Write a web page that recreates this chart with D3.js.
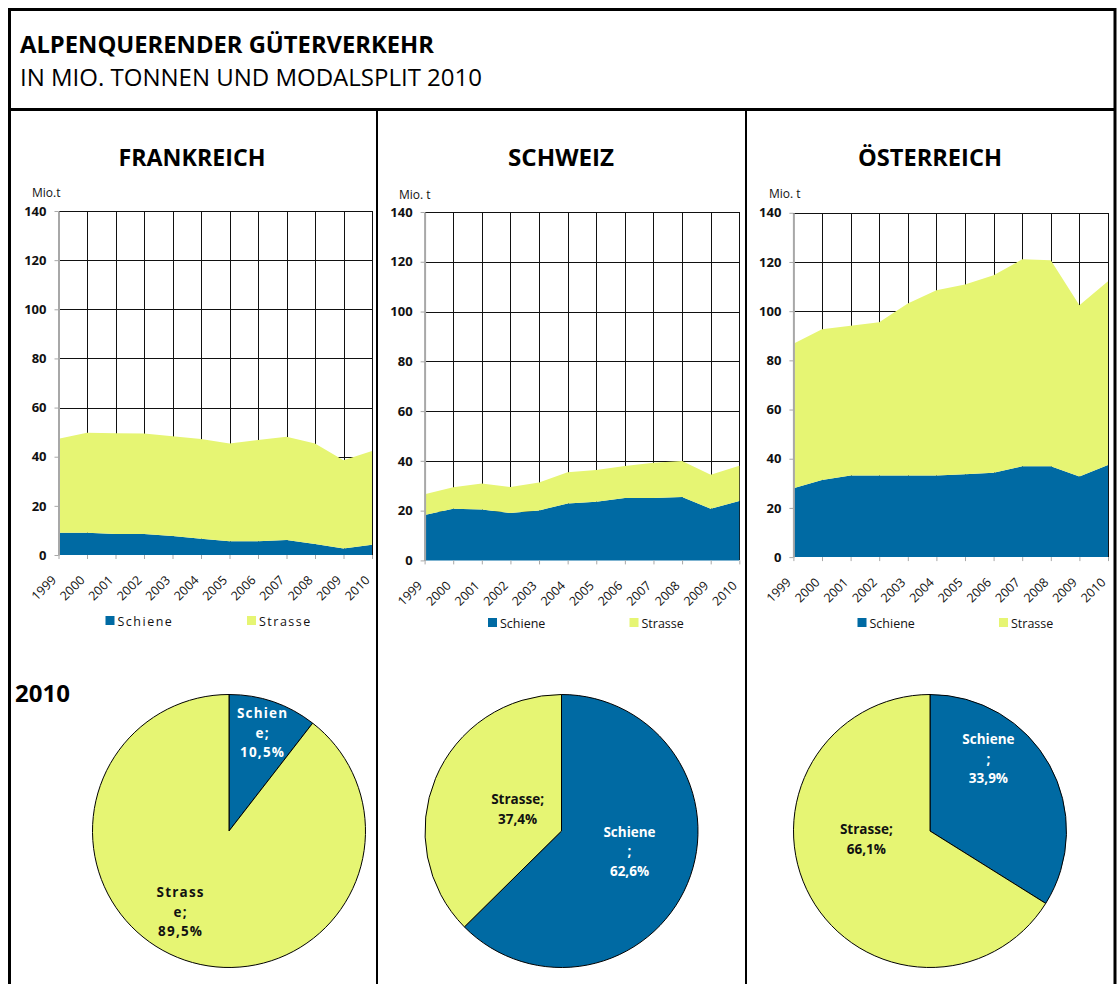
<!DOCTYPE html>
<html lang="de">
<head>
  <meta charset="UTF-8">
  <title>Alpenquerender Güterverkehr</title>
  <style>
    body { margin: 0; background: #fff; }
    svg { display: block; font-family: "Open Sans", "DejaVu Sans", sans-serif; }
    .grid line { stroke: #111; stroke-width: 1; shape-rendering: crispEdges; }
    .axis path, .axis line { stroke: #a8a8a8; }
    .axis text { fill: #111; font-family: "Open Sans", sans-serif; }
    .frame { fill: none; stroke: #000; }
  </style>
</head>
<body>
  <svg id="chart" width="1118" height="984"></svg>
  <script src="https://cdnjs.cloudflare.com/ajax/libs/d3/7.8.5/d3.min.js"></script>
  <script>
    // data (Mio. t)
    const years = [1999, 2000, 2001, 2002, 2003, 2004, 2005, 2006, 2007, 2008, 2009, 2010];
    const yTicks = [0, 20, 40, 60, 80, 100, 120, 140];
    const seriesNames = ['Schiene', 'Strasse'];
    const countries = ['FRANKREICH', 'SCHWEIZ', 'ÖSTERREICH'];

    const frSchiene = [9.1, 9.1, 8.5, 8.5, 7.7, 6.6, 5.6, 5.6, 6.1, 4.5, 2.6, 4.2];
    const frStrasse = [38.2, 40.7, 41.0, 40.9, 40.6, 40.6, 39.8, 41.2, 42.0, 40.9, 36.0, 38.1];
    const chSchiene = [18.2, 20.8, 20.5, 19.0, 20.1, 22.9, 23.6, 25.1, 25.1, 25.5, 20.8, 23.9];
    const chStrasse = [8.4, 8.6, 10.4, 10.5, 11.2, 12.5, 12.7, 12.8, 14.1, 14.4, 13.6, 14.1];
    const atSchiene = [28.0, 31.4, 33.2, 33.2, 33.2, 33.2, 33.7, 34.3, 36.9, 36.9, 32.8, 37.5];
    const atStrasse = [58.8, 61.2, 60.9, 62.3, 69.9, 75.3, 77.1, 80.3, 84.2, 83.8, 69.6, 74.7];

    // modal split 2010 in %
    const frShare = [10.5, 89.5];
    const chShare = [62.6, 37.4];
    const atShare = [33.9, 66.1];

    const colors = { Schiene: '#006aa3', Strasse: '#e6f573' };

    // panel geometry (positions only)
    const panels = [
      { name: countries[0], schiene: frSchiene, strasse: frStrasse, share: frShare,
        left: 58.5, right: 372, top: 211, bottom: 555, unitX: 32, unitY: 197, unitText: 'Mio.t',
        titleX: 192, titleW: 147, legendX: 105.5, legendY: 616, pieX: 229, pieY: 831,
        labelK: [0.76, 0.69], labelShift: [0, 12], labelBreak: [6, 6], labelSpacing: 1.2 },
      { name: countries[1], schiene: chSchiene, strasse: chStrasse, share: chShare,
        left: 424.6, right: 739.3, top: 212, bottom: 560.4, unitX: 399, unitY: 199, unitText: 'Mio. t',
        titleX: 561, titleW: 106, legendX: 488, legendY: 618, pieX: 561.5, pieY: 831,
        labelK: [0.52, 0.36], labelShift: [-6, 4], labelBreak: [7, null], labelSpacing: 0 },
      { name: countries[2], schiene: atSchiene, strasse: atStrasse, share: atShare,
        left: 793.4, right: 1108, top: 212.8, bottom: 557.1, unitX: 769, unitY: 198, unitText: 'Mio. t',
        titleX: 930, titleW: 144, legendX: 857.5, legendY: 618, pieX: 930, pieY: 831,
        labelK: [0.68, 0.47], labelShift: [-22, 22], labelBreak: [7, null], labelSpacing: 0 }
    ];

    const svg = d3.select('#chart');
    const R = 136.5;

    function drawPanel (p) {
      const g = svg.append('g');
      const x = d3.scalePoint().domain(years).range([p.left, p.right]);
      const y = d3.scaleLinear().domain([0, 140]).range([p.bottom, p.top]);

      // grid
      const grid = g.append('g').attr('class', 'grid');
      grid.selectAll('.h').data(yTicks.slice(1)).enter().append('line')
        .attr('x1', p.left).attr('x2', p.right)
        .attr('y1', d => Math.round(y(d)) + 0.5).attr('y2', d => Math.round(y(d)) + 0.5);
      grid.selectAll('.v').data(years.slice(1)).enter().append('line')
        .attr('x1', d => Math.round(x(d)) + 0.5).attr('x2', d => Math.round(x(d)) + 0.5)
        .attr('y1', p.top).attr('y2', p.bottom);

      // stacked areas
      const table = years.map((yr, i) => ({ year: yr, Schiene: p.schiene[i], Strasse: p.strasse[i] }));
      const stacked = d3.stack().keys(seriesNames)(table);
      const area = d3.area()
        .x(d => x(d.data.year))
        .y0(d => y(d[0]))
        .y1(d => y(d[1]));
      g.selectAll('.layer').data(stacked).enter().append('path')
        .attr('fill', d => colors[d.key])
        .attr('d', area);

      // axes
      const yAxis = g.append('g').attr('class', 'axis')
        .attr('transform', `translate(${p.left},0)`)
        .call(d3.axisLeft(y).tickValues(yTicks).tickSize(4).tickSizeOuter(0).tickPadding(8));
      yAxis.select('.domain').attr('stroke-width', 2);
      yAxis.selectAll('text').attr('font-size', 13).attr('font-weight', 'bold');

      const xAxis = g.append('g').attr('class', 'axis')
        .attr('transform', `translate(0,${p.bottom})`)
        .call(d3.axisBottom(x).tickSize(4).tickSizeOuter(0).tickFormat(d => String(d)));
      xAxis.select('.domain').remove();
      xAxis.selectAll('text')
        .attr('x', 0).attr('y', 0).attr('dy', 0)
        .attr('font-size', 12.5)
        .attr('text-anchor', 'end')
        .attr('transform', 'translate(-2,26) rotate(-45)');

      g.append('text').attr('x', p.unitX).attr('y', p.unitY)
        .attr('font-size', 12).attr('fill', '#111').text(p.unitText);

      // legend
      seriesNames.forEach((s, i) => {
        const lx = p.legendX + i * 141.5;
        g.append('rect').attr('x', lx).attr('y', p.legendY).attr('width', 9).attr('height', 9)
          .attr('fill', colors[s]);
        g.append('text').attr('x', lx + 12).attr('y', p.legendY + 9.5)
          .attr('font-size', 12.5).attr('fill', '#111')
          .attr('letter-spacing', p.labelSpacing ? 1.5 : 0).text(s);
      });

      // title
      svg.append('text').attr('x', p.titleX - p.titleW / 2).attr('y', 166)
        .attr('font-size', 23).attr('font-weight', 'bold')
        .attr('textLength', p.titleW).attr('lengthAdjust', 'spacingAndGlyphs')
        .text(p.name);

      // pie 2010
      const pie = d3.pie().sort(null).value(d => d);
      const arcs = pie(p.share);
      const arc = d3.arc().innerRadius(0).outerRadius(R);
      const pg = svg.append('g').attr('transform', `translate(${p.pieX},${p.pieY})`);
      pg.selectAll('path').data(arcs).enter().append('path')
        .attr('d', arc)
        .attr('fill', (d, i) => colors[seriesNames[i]])
        .attr('stroke', '#000').attr('stroke-width', 1);

      const fmt = v => d3.format('.1f')(v).replace('.', ',') + '%';
      arcs.forEach((a, i) => {
        const ang = (a.startAngle + a.endAngle) / 2 + p.labelShift[i] * Math.PI / 180;
        const r = p.labelK[i] * R;
        const lx = r * Math.sin(ang), ly = -r * Math.cos(ang);
        const txt = seriesNames[i] + ';';
        const b = p.labelBreak[i];
        const lines = (b ? [txt.slice(0, b), txt.slice(b)] : [txt]).concat([fmt(p.share[i])]);
        const t = pg.append('text')
          .attr('text-anchor', 'middle').attr('font-size', 13.5).attr('font-weight', 'bold')
          .attr('fill', i === 0 ? '#fff' : '#111')
          .attr('letter-spacing', p.labelSpacing);
        const lh = 19.5;
        const off = -(lines.length - 1) / 2 * lh;
        lines.forEach((ln, j) => {
          t.append('tspan').attr('x', lx).attr('y', ly + off + j * lh)
            .attr('dominant-baseline', 'central').text(ln);
        });
      });
    }

    panels.forEach(drawPanel);

    // header
    svg.append('text').attr('x', 20).attr('y', 53)
      .attr('font-size', 23).attr('font-weight', 'bold')
      .attr('textLength', 414).attr('lengthAdjust', 'spacingAndGlyphs')
      .text('ALPENQUERENDER GÜTERVERKEHR');
    svg.append('text').attr('x', 20).attr('y', 86)
      .attr('font-size', 23)
      .attr('textLength', 462).attr('lengthAdjust', 'spacingAndGlyphs')
      .text('IN MIO. TONNEN UND MODALSPLIT 2010');
    svg.append('text').attr('x', 15).attr('y', 702)
      .attr('font-size', 24).attr('font-weight', 'bold').text('2010');

    // frame
    svg.append('path').attr('class', 'frame').attr('stroke-width', 3)
      .attr('d', 'M9.5,1000 V9.5 H1115 V1000');
    svg.append('line').attr('class', 'frame').attr('stroke-width', 3)
      .attr('x1', 9.5).attr('x2', 1115).attr('y1', 109.5).attr('y2', 109.5);
    [377, 746].forEach(xv => {
      svg.append('line').attr('class', 'frame').attr('stroke-width', 2)
        .attr('x1', xv).attr('x2', xv).attr('y1', 109.5).attr('y2', 1000);
    });
  </script>
</body>
</html>
